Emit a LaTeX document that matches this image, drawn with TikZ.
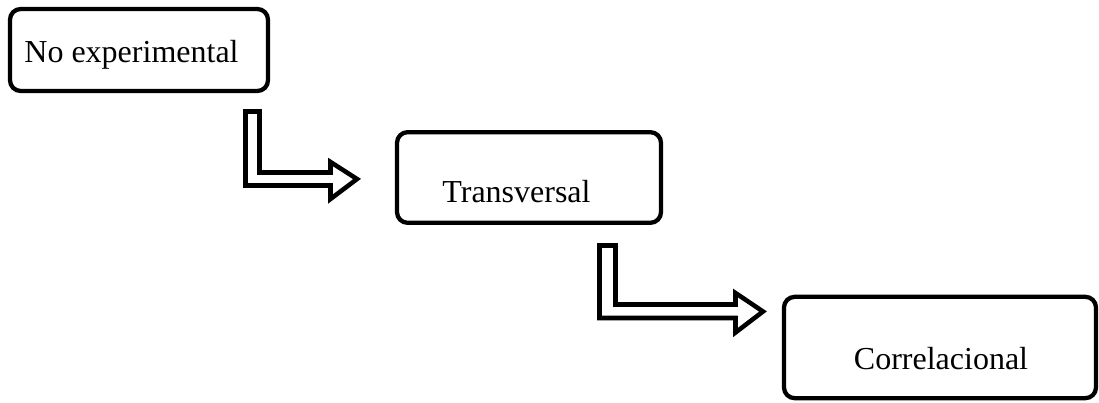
\documentclass[tikz,border=0pt]{standalone}
\usepackage{fontspec}
\setmainfont{Liberation Serif}
\begin{document}
\begin{tikzpicture}[x=0.75pt,y=-0.75pt,
  stagebox/.style={draw=black,line width=3.2pt,rounded corners=8pt,fill=white,
    inner sep=0pt,outer sep=0pt},
  stagetext/.style={anchor=base,inner sep=0pt,font=\fontsize{24}{28}\selectfont},
  blockarrow/.style={draw=black,line width=3.4pt,fill=white,line join=miter}]
\useasboundingbox (0,0) rectangle (1099,403);

% stages
\node[stagebox,minimum width=193.5pt,minimum height=61.5pt] (b1) at (139,50) {};
\node[stagebox,minimum width=198pt,minimum height=68pt] (b2) at (529,177.5) {};
\node[stagebox,minimum width=234pt,minimum height=76pt] (b3) at (940,347.5) {};

\node[stagetext] (t1) at (131.5,63) {No experimental};
\node[stagetext] (t2) at (516.5,202) {Transversal};
\node[stagetext] (t3) at (941,369) {Correlacional};

% bent block arrows between stages
\coordinate (a1) at (245.5,111.5);
\coordinate (a2) at (599.5,245.5);
\draw[blockarrow] (a1) -- ++(14,0) -- ++(0,61) -- ++(71,0) -- ++(0,-10.5)
  -- ++(26.5,17) -- ++(-26.5,20) -- ++(0,-13.5) -- ++(-85,0) -- cycle;
\draw[blockarrow] (a2) -- ++(16,0) -- ++(0,59) -- ++(120,0) -- ++(0,-11.5)
  -- ++(27.5,18.5) -- ++(-27.5,21) -- ++(0,-14.5) -- ++(-136,0) -- cycle;
\end{tikzpicture}
\end{document}
